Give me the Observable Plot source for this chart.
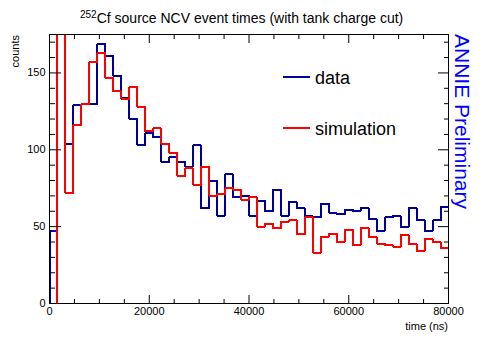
<!DOCTYPE html>
<html><head><meta charset="utf-8">
<script src="https://cdn.jsdelivr.net/npm/d3@7"></script>
<script src="https://cdn.jsdelivr.net/npm/@observablehq/plot@0.6"></script>
<style>
html,body{margin:0;padding:0;background:#fff;}
#chart{position:relative;width:498px;height:338px;}
</style></head><body><div id="chart"></div>
<script>
// histogram: 50 bins of 1600 ns from 0 to 80000 ns
const binWidth = 1600;
const dataCounts = [47, 230, 104, 129, 130, 130, 169, 161, 148, 134,
  120, 103, 111, 108, 92, 95, 92, 89, 103, 62,
  80, 57, 84, 69, 70, 57, 67, 60, 74, 57,
  66, 62, 57, 56, 65, 59, 58, 61, 60, 62,
  55, 47, 56, 57, 50, 62, 54, 47, 54, 63];
const simCounts = [0, 240, 72, 116, 130, 157, 163, 147, 138, 133,
  141, 128, 112, 114, 104, 98, 83, 88, 77, 89,
  70, 71, 75, 74, 67.5, 69, 50, 52, 49, 53,
  54, 45, 56, 33, 43.5, 45.5, 40, 48, 38, 49,
  43, 39, 38, 37, 44.5, 38.5, 34, 42, 40, 36];
const xTicksMajor = [0, 20000, 40000, 60000, 80000];
const xTicksMinor = [5000, 10000, 15000, 25000, 30000, 35000, 45000, 50000, 55000, 65000, 70000, 75000];
const yTicksMajor = [0, 50, 100, 150];
const yTicksMinor = [10, 20, 30, 40, 60, 70, 80, 90, 110, 120, 130, 140, 160, 170];
const seriesNames = ["data", "simulation"];
const seriesColors = ["#000099", "#ff0000"];

function steps(vals) {
  const pts = [{x: 0, y: 0}];
  vals.forEach((v, i) => {
    pts.push({x: i * binWidth, y: v}, {x: (i + 1) * binWidth, y: v});
  });
  pts.push({x: vals.length * binWidth, y: 0});
  return pts;
}

const font = "'Liberation Sans', Arial, Helvetica, sans-serif";
const chart = Plot.plot({
  width: 498, height: 338,
  marginLeft: 49, marginRight: 50, marginTop: 34, marginBottom: 35,
  x: {domain: [0, 80000]},
  y: {domain: [0, 175]},
  style: {fontFamily: font, fontSize: "11px", color: "black", background: "white"},
  marks: [
    Plot.line(steps(dataCounts), {x: "x", y: "y", stroke: seriesColors[0], strokeWidth: 2, strokeLinejoin: "miter", shapeRendering: "crispEdges", clip: true}),
    Plot.line(steps(simCounts), {x: "x", y: "y", stroke: seriesColors[1], strokeWidth: 2, strokeLinejoin: "miter", shapeRendering: "crispEdges", clip: true}),
    Plot.frame({stroke: "black", strokeWidth: 1}),
    Plot.axisX({anchor: "bottom", ticks: xTicksMajor, tickSize: 0, tickPadding: 4, tickFormat: d => String(d), label: null}),
    Plot.axisX({anchor: "bottom", ticks: xTicksMajor, tickSize: -8, tickFormat: () => "", label: null}),
    Plot.axisX({anchor: "bottom", ticks: xTicksMinor, tickSize: -4, tickFormat: () => "", label: null}),
    Plot.axisX({anchor: "top", ticks: xTicksMajor, tickSize: -8, tickFormat: () => "", label: null}),
    Plot.axisX({anchor: "top", ticks: xTicksMinor, tickSize: -4, tickFormat: () => "", label: null}),
    Plot.axisY({anchor: "left", ticks: yTicksMajor, tickSize: 0, tickPadding: 4, tickFormat: d => String(d), label: null}),
    Plot.axisY({anchor: "left", ticks: yTicksMajor, tickSize: -12, tickFormat: () => "", label: null}),
    Plot.axisY({anchor: "left", ticks: yTicksMinor, tickSize: -6, tickFormat: () => "", label: null}),
    Plot.axisY({anchor: "right", ticks: yTicksMajor, tickSize: -11, tickFormat: () => "", label: null}),
    Plot.axisY({anchor: "right", ticks: yTicksMinor, tickSize: -5, tickFormat: () => "", label: null})
  ]
});
document.getElementById("chart").appendChild(chart);

const svg = d3.select(chart);
const g = svg.append("g").attr("font-family", font).attr("fill", "black").attr("text-anchor", "start");
// title
const t = g.append("text").attr("x", 80).attr("y", 23).attr("font-size", 14);
t.append("tspan").attr("font-size", 10).attr("dy", -5).text("252");
t.append("tspan").attr("dy", 5).text("Cf source NCV event times (with tank charge cut)");
// axis titles
g.append("text").attr("transform", "translate(18.5,35) rotate(-90)").attr("text-anchor", "end").attr("font-size", 11).text("counts");
g.append("text").attr("x", 448).attr("y", 330).attr("text-anchor", "end").attr("font-size", 11).text("time (ns)");
// watermark
g.append("text").attr("transform", "translate(455,34) rotate(90)").attr("font-size", 21).attr("fill", "#0000ff").text("ANNIE Preliminary");
// legend
const legY = [77, 128];
seriesNames.forEach((name, i) => {
  g.append("line").attr("x1", 283).attr("x2", 310).attr("y1", legY[i]).attr("y2", legY[i])
    .attr("stroke", seriesColors[i]).attr("stroke-width", 2);
  g.append("text").attr("x", 315).attr("y", legY[i] + 7).attr("font-size", 18).text(name);
});
</script></body></html>
